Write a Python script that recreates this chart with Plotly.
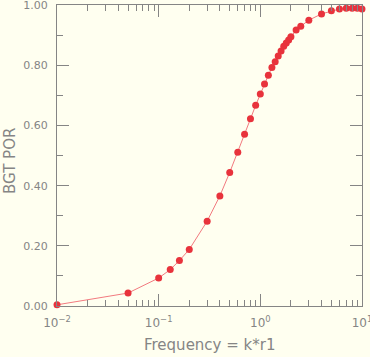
import plotly.graph_objects as go

freq = [0.01, 0.05, 0.1, 0.13, 0.16, 0.2, 0.3, 0.4, 0.5, 0.6, 0.7, 0.8, 0.9,
        1.0, 1.1, 1.2, 1.3, 1.4, 1.5, 1.6, 1.7, 1.8, 1.9, 2.0, 2.25, 2.5,
        3.0, 4.0, 5.0, 6.0, 7.0, 8.0, 9.0, 10.0]
bgt_por = [0.004, 0.043, 0.093, 0.121, 0.151, 0.188, 0.282, 0.366, 0.444, 0.511,
           0.571, 0.622, 0.667, 0.705, 0.738, 0.767, 0.793, 0.812, 0.831, 0.848,
           0.863, 0.874, 0.884, 0.895, 0.917, 0.930, 0.950, 0.971, 0.981, 0.987,
           0.990, 0.990, 0.990, 0.987]

x_tickvals = [0.01, 0.1, 1, 10]
x_ticktext = ["10<sup>−2</sup>", "10<sup>−1</sup>", "10<sup>0</sup>", "10<sup>1</sup>"]
y_tickvals = [0.0, 0.2, 0.4, 0.6, 0.8, 1.0]
y_ticktext = ["0.00", "0.20", "0.40", "0.60", "0.80", "1.00"]

GRAY = "#858585"
BG = "#FFFFF0"
FONT = "DejaVu Sans"

fig = go.Figure()
fig.add_trace(go.Scatter(
    x=freq, y=bgt_por, mode="lines+markers",
    line=dict(color="#F27A7F", width=1),
    marker=dict(color="#E8333C", size=7),
    showlegend=False, cliponaxis=False,
))

fig.update_layout(
    width=370, height=357,
    margin=dict(l=57, r=8, t=5, b=51),
    paper_bgcolor=BG, plot_bgcolor=BG,
    font=dict(family=FONT, color=GRAY, size=12),
    xaxis=dict(
        type="log", range=[-2, 1.0002], automargin=False,
        tickmode="array", tickvals=x_tickvals, ticktext=x_ticktext,
        showline=True, linecolor=GRAY, linewidth=1, mirror="ticks",
        ticks="inside", ticklen=12, tickcolor=GRAY, tickwidth=1,
        showgrid=False, zeroline=False,
        ticklabelstandoff=6, ticklabeloverflow="allow",
        tickfont=dict(size=12, color=GRAY, family=FONT),
        minor=dict(ticks="inside", ticklen=6, tickcolor=GRAY, dtick="D1", showgrid=False),
    ),
    yaxis=dict(
        range=[0, 1.0005], automargin=False,
        tickmode="array", tickvals=y_tickvals, ticktext=y_ticktext,
        showline=True, linecolor=GRAY, linewidth=1, mirror="ticks",
        ticks="inside", ticklen=12, tickcolor=GRAY, tickwidth=1,
        showgrid=False, zeroline=False,
        ticklabelstandoff=6, ticklabeloverflow="allow",
        tickfont=dict(size=11, color=GRAY, family=FONT),
        minor=dict(ticks="inside", ticklen=6, tickcolor=GRAY, dtick=0.1, showgrid=False),
    ),
    annotations=[
        dict(text="Frequency = k*r1", xref="paper", yref="paper", x=0.5, y=-0.131,
             xanchor="center", yanchor="middle", showarrow=False,
             font=dict(size=15, color=GRAY, family=FONT)),
        dict(text="BGT POR", xref="paper", yref="paper", x=-0.155, y=0.481,
             xanchor="center", yanchor="middle", showarrow=False, textangle=-90,
             font=dict(size=15, color=GRAY, family=FONT)),
    ],
)

fig.write_html(
    "out.html",
    config={"displayModeBar": False},
    post_script="document.body.style.margin='0';document.body.style.background='#FFFFF0';",
)
